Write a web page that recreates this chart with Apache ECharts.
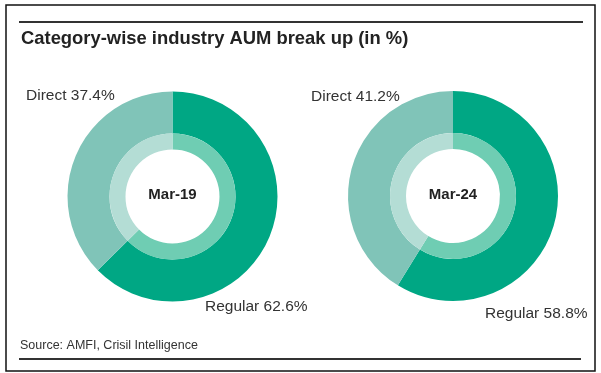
<!DOCTYPE html>
<html>
<head>
<meta charset="utf-8">
<script src="https://cdn.jsdelivr.net/npm/echarts@6/dist/echarts.min.js"></script>
<style>
html,body{margin:0;padding:0;background:#fff;}
#chart{width:601px;height:373px;}
</style>
</head>
<body>
<div id="chart"></div>
<script>
// ---- data ----
var titleText = 'Category-wise industry AUM break up (in %)';
var sourceText = 'Source: AMFI, Crisil Intelligence';
var periods = ['Mar-19', 'Mar-24'];
var categories = ['Regular', 'Direct'];
var regularShare = [62.6, 58.8];
var directShare = [37.4, 41.2];

// ---- style / layout ----
var centers = [[172.5, 196.5], [453, 196]];
var outerColors = ['#00a784', '#80c4b8'];
var innerColors = ['#6fcdb3', '#b4ddd5'];
// label anchor points [regular, direct] for each donut (left edge, middle)
var labelPos = [
  [[205, 307], [26, 96]],
  [[485, 314], [311, 97]]
];
var FONT = '"Liberation Sans", Arial, sans-serif';

var series = [];
var titles = [
  {text: titleText, left: 21, top: 30, padding: 0,
   textStyle: {fontFamily: FONT, fontSize: 18.4, fontWeight: 'bold', color: '#222'}},
  {text: sourceText, left: 20, top: 339, padding: 0,
   textStyle: {fontFamily: FONT, fontSize: 12.5, fontWeight: 'normal', color: '#333'}}
];

periods.forEach(function (p, i) {
  var data = [
    {name: categories[0], value: regularShare[i]},
    {name: categories[1], value: directShare[i]}
  ];
  series.push({
    type: 'pie',
    center: centers[i],
    radius: [63, 105],
    startAngle: 90,
    clockwise: true,
    silent: true,
    animation: false,
    avoidLabelOverlap: false,
    data: data.map(function (d, k) {
      return {name: d.name, value: d.value, itemStyle: {color: outerColors[k]}};
    }),
    label: {
      show: true,
      position: 'outside',
      overflow: 'none',
      width: 200,
      formatter: function (pr) { return pr.name + ' ' + pr.value.toFixed(1) + '%'; },
      fontFamily: FONT, fontSize: 15.5, color: '#333'
    },
    labelLine: {show: false},
    labelLayout: (function (idx) {
      return function (params) {
        var pos = labelPos[idx][params.dataIndex];
        return {x: pos[0], y: pos[1], align: 'left', verticalAlign: 'middle', hideOverlap: false};
      };
    })(i)
  });
  series.push({
    type: 'pie',
    center: centers[i],
    radius: [47, 63],
    startAngle: 90,
    clockwise: true,
    silent: true,
    animation: false,
    data: data.map(function (d, k) {
      return {name: d.name, value: d.value, itemStyle: {color: innerColors[k]}};
    }),
    label: {show: false},
    labelLine: {show: false}
  });
  titles.push({
    text: p,
    left: centers[i][0],
    top: centers[i][1] - 9,
    textAlign: 'center',
    padding: 0,
    textStyle: {fontFamily: FONT, fontSize: 15, fontWeight: 'bold', color: '#222'}
  });
});

var chart = echarts.init(document.getElementById('chart'), null, {renderer: 'canvas'});
chart.setOption({
  backgroundColor: '#fff',
  animation: false,
  title: titles,
  series: series,
  graphic: [
    {type: 'rect', shape: {x: 6, y: 5, width: 589, height: 366},
     style: {fill: 'none', stroke: '#111', lineWidth: 1.5}},
    {type: 'line', shape: {x1: 19, y1: 22, x2: 583, y2: 22},
     style: {stroke: '#333', lineWidth: 2}},
    {type: 'line', shape: {x1: 19, y1: 359, x2: 581, y2: 359},
     style: {stroke: '#333', lineWidth: 2}}
  ]
});
</script>
</body>
</html>
